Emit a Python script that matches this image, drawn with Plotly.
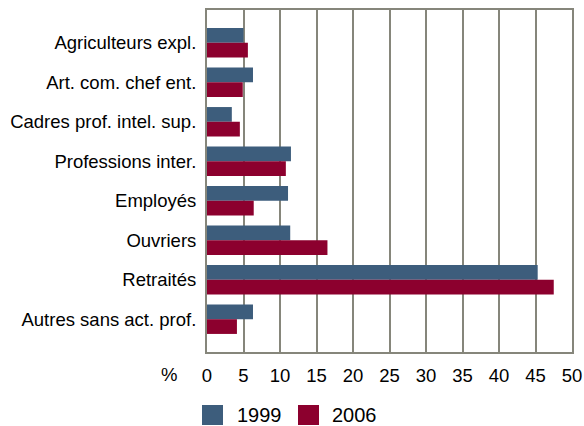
import plotly.graph_objects as go

categories = [
    "Agriculteurs expl.",
    "Art. com. chef ent.",
    "Cadres prof. intel. sup.",
    "Professions inter.",
    "Employés",
    "Ouvriers",
    "Retraités",
    "Autres sans act. prof.",
]
values_1999 = [5.0, 6.3, 3.4, 11.5, 11.1, 11.4, 45.3, 6.3]
values_2006 = [5.6, 4.9, 4.5, 10.8, 6.4, 16.5, 47.5, 4.1]
series_names = ["1999", "2006"]
colors = ["#3d5d7c", "#8c002e"]
x_ticks = [0, 5, 10, 15, 20, 25, 30, 35, 40, 45, 50]

FONT = "Liberation Sans, Arial, sans-serif"

fig = go.Figure()
for name, vals, col in zip(series_names, [values_1999, values_2006], colors):
    fig.add_trace(go.Bar(
        y=categories, x=vals, name=name, orientation="h",
        marker=dict(color=col, line=dict(width=0)),
        showlegend=False,
    ))

n = len(categories)
fig.update_layout(
    width=584, height=426,
    margin=dict(l=207, r=12, t=10, b=74, autoexpand=False),
    paper_bgcolor="white", plot_bgcolor="white",
    barmode="group", bargap=0.255, bargroupgap=0,
    font=dict(family=FONT, size=18, color="#000000"),
    xaxis=dict(
        range=[0, 50], tickvals=x_ticks, ticktext=[str(t) for t in x_ticks],
        showgrid=True, gridcolor="#86867b", gridwidth=2,
        showline=True, linecolor="#86867b", linewidth=2, mirror=True,
        ticks="", zeroline=False, tickfont=dict(size=18.5),
        ticklabelstandoff=6,
    ),
    yaxis=dict(
        categoryorder="array", categoryarray=categories,
        range=[n - 1 + 0.83, -0.83],
        showgrid=False, showline=True, linecolor="#86867b", linewidth=2,
        mirror=True, ticks="", tickfont=dict(size=18.5),
        ticklabelstandoff=5,
    ),
)

# "%" label at the axis-label row
fig.add_annotation(text="%", xref="paper", yref="paper", x=(169 - 207) / 365,
                   y=(352 - 374) / 342,
                   xanchor="center", yanchor="middle", showarrow=False,
                   font=dict(size=18.5, family=FONT))

# Custom legend with large squares
leg_items = [(202, 235, "1999", colors[0]), (298, 330, "2006", colors[1])]
for sx, tx, label, col in leg_items:
    fig.add_shape(type="rect", xref="paper", yref="paper",
                  x0=(sx - 207) / 365, x1=(sx + 21 - 207) / 365,
                  y0=(352 - 425) / 342, y1=(352 - 405) / 342,
                  fillcolor=col, line=dict(width=0))
    fig.add_annotation(text=label, xref="paper", yref="paper",
                       x=(tx - 207) / 365, y=(352 - 415) / 342,
                       xanchor="left", yanchor="middle", showarrow=False,
                       font=dict(size=20, family=FONT))

fig.write_html("out.html", config={"displayModeBar": False},
               post_script="document.body.style.margin='0';document.body.style.padding='0';")
